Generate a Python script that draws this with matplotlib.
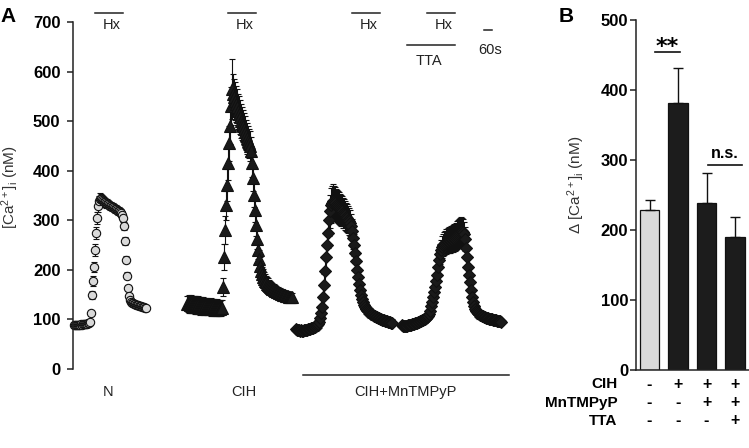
import matplotlib.pyplot as plt
import numpy as np

plt.rcParams['font.family'] = ['Liberation Sans', 'DejaVu Sans']
plt.rcParams['mathtext.fontset'] = 'custom'
plt.rcParams['mathtext.rm'] = 'Liberation Sans'
plt.rcParams['mathtext.it'] = 'Liberation Sans:italic'
plt.rcParams['mathtext.bf'] = 'Liberation Sans:bold'

# ---------------- panel A: [Ca2+]i traces (nM) ----------------
SAMPLE_S = 7.5  # one point every 7.5 s

# normoxic cells (N)
n_start = 7.5
n_vals = [88, 88, 89, 88, 89, 89, 89, 90, 89, 90, 90, 90, 91, 91, 92, 93,
          95, 113, 149, 177, 205, 240, 275, 305, 328,
          338, 343, 342, 341, 339, 337, 336, 334, 333, 332, 330, 329, 328,
          327, 326, 325, 323, 322, 321, 319, 318, 316, 314, 311, 305,
          288, 258, 220, 188, 163, 148,
          140, 136, 134, 133, 132, 131, 130, 129, 129, 128, 127, 127, 126,
          125, 125, 124, 123]
n_err = [2, 2, 2, 2, 2, 2, 2, 2, 2, 2, 2, 2, 3, 3, 3, 3,
         4, 5, 8, 10, 10, 12, 12, 12, 12,
         12, 12, 11, 10, 10, 9, 9, 9, 9, 8, 8, 8, 8, 8, 8, 8, 8, 8, 8, 8,
         8, 8, 8, 8, 8,
         8, 8, 7, 7, 6, 6,
         5, 5, 4, 4, 4, 4, 4, 4, 4, 4, 3, 3, 3, 3, 3, 3, 3]

# CIH
cih_start = 855
cih_vals = [132, 131, 131, 130, 131, 130, 129, 130, 129, 129, 128, 129,
            128, 127, 128, 127, 127, 126, 127, 126, 126, 125, 126, 125,
            125, 124, 125, 124, 124, 123, 124, 123, 123, 122, 123, 124,
            165, 226, 280, 330, 371, 415, 455, 490, 530, 565,
            555, 548, 540, 535, 528, 520, 515, 508, 500, 495, 490, 484,
            478, 472, 465, 460, 455, 450, 440,
            415, 385, 352, 320, 290, 262, 240, 222, 208, 198,
            191, 186, 182, 178, 175, 172, 170, 168, 166, 164, 162, 161,
            160, 158, 157, 156, 155, 154, 153, 152, 151, 150, 150, 149,
            148, 148, 147, 146, 146, 145, 145]
cih_err = [16, 17, 18, 18, 19, 18, 17, 18, 19, 18, 17, 18, 18, 19, 18, 17,
           18, 18, 17, 18, 18, 17, 16, 17, 18, 17, 16, 17, 16, 16, 17, 16,
           16, 15, 16, 16,
           18, 26, 28, 30, 32, 34, 35, 36, 38, 60,
           40, 38, 38, 36, 36, 35, 35, 34, 34, 33, 33, 32, 32, 31, 31, 30,
           30, 30, 28,
           27, 26, 25, 24, 22, 20, 19, 18, 17, 16,
           15, 15, 14, 14, 13, 13, 13, 12, 12, 12, 12, 11, 11, 11, 11, 10,
           10, 10, 10, 10, 10, 9, 9, 9, 9, 9, 9, 9, 9, 9, 9]

# CIH + MnTMPyP
mn_start = 1672.5
mn_vals = [80, 79, 78, 78, 77, 78, 77, 77, 78, 78, 79, 79, 80, 80, 81, 82,
           82, 83, 84, 85, 86, 88, 90,
           95, 102, 112, 125, 145, 170, 198, 225, 250, 275, 300, 318, 330,
           335, 338,
           336, 334, 331, 329, 327, 325, 322, 320, 318, 315, 313, 310, 307,
           304, 301, 298, 294,
           288, 278, 265, 250, 234, 218, 200, 186, 172, 159, 149, 141, 135,
           130,
           126, 122, 119, 117, 115, 113, 111, 110, 108, 107, 106, 105, 104,
           103, 102, 101, 100, 99, 99, 98, 97, 96, 96, 95, 94, 94, 93, 93]
mn_err = [6, 6, 6, 6, 6, 6, 6, 6, 6, 7, 7, 7, 7, 7, 7, 8, 8, 8, 8, 9, 9, 10,
          10,
          12, 14, 16, 18, 20, 22, 25, 27, 28, 30, 32, 33, 35, 35, 35,
          34, 34, 33, 33, 32, 32, 31, 31, 30, 30, 29, 29, 28, 28, 27, 27, 26,
          25, 24, 23, 22, 21, 20, 19, 18, 17, 16, 15, 14, 13, 12,
          12, 11, 11, 10, 10, 10, 9, 9, 9, 9, 8, 8, 8, 8, 8, 8, 7, 7, 7, 7,
          7, 7, 7, 7, 7, 7, 7, 7]

# CIH + MnTMPyP + TTA
tta_start = 2467.5
tta_vals = [88, 87, 87, 86, 87, 87, 88, 88, 89, 89, 90, 90, 91, 92, 92, 93,
            94, 95, 96, 97, 98, 99, 100, 101, 103, 105, 107, 110,
            118, 127, 136, 145, 155, 165, 178, 190, 206, 220, 232, 240, 246,
            250, 253,
            255, 257, 258, 259, 260, 261, 262, 263, 264, 265, 266, 268, 270,
            272, 274, 276, 278, 278, 276, 272,
            262, 245, 225, 206, 190, 176, 160, 145, 135, 128, 122,
            118, 115, 112, 110, 109, 108, 107, 106, 105, 104, 103, 103, 102,
            101, 101, 100, 100, 99, 99, 98, 98, 97, 97, 96, 96, 95]
tta_err = [5, 5, 5, 5, 5, 5, 5, 5, 5, 5, 6, 6, 6, 6, 6, 6, 6, 6, 7, 7, 7, 7,
           7, 8, 8, 8, 9, 9,
           10, 11, 12, 13, 14, 15, 16, 17, 18, 19, 20, 21, 22, 23, 24,
           24, 25, 25, 25, 26, 26, 26, 26, 27, 27, 27, 27, 28, 28, 28, 28,
           28, 27, 26, 25,
           24, 22, 20, 18, 17, 16, 15, 14, 13, 12, 11,
           10, 10, 9, 9, 9, 8, 8, 8, 8, 7, 7, 7, 7, 7, 7, 6, 6, 6, 6, 6, 6,
           6, 6, 6, 6, 6]

# hypoxia (Hx) and TTA application windows, seconds
hx_windows = [(165, 375), (1162.5, 1372.5), (2092.5, 2302.5), (2655, 2865)]
tta_window = (2505, 2865)

# ---------------- panel B: peak increase ----------------
b_vals = [228, 381, 239, 190]
b_err = [15, 51, 43, 29]
b_colors = ['#dadada', '#1c1c1c', '#1c1c1c', '#1c1c1c']
row_cih = ['-', '+', '+', '+']
row_mn = ['-', '-', '+', '+']
row_tta = ['-', '-', '-', '+']

fig = plt.figure(figsize=(7.49, 4.48), dpi=100)

ax = fig.add_axes([0.09746, 0.17634, 0.5968, 0.77455])
traces = [
    (n_start, n_vals, n_err, 'o', 6.0, '#d9d9d9'),
    (cih_start, cih_vals, cih_err, '^', 8.2, '#1a1a1a'),
    (mn_start, mn_vals, mn_err, 'D', 6.0, '#1a1a1a'),
    (tta_start, tta_vals, tta_err, 'D', 6.0, '#1a1a1a'),
]
for start, vals, err, mk, ms, fc in traces:
    t = start + SAMPLE_S * np.arange(len(vals))
    ax.errorbar(t, vals, yerr=err, fmt=mk, ms=ms, mfc=fc, mec='#111111',
                mew=0.8, ecolor='#111111', elinewidth=0.8, capsize=2.5,
                capthick=0.8, clip_on=False)

ax.set_xlim(0, 3352.5)
ax.set_ylim(0, 700)
ax.set_yticks(range(0, 701, 100))
for s in ['top', 'right', 'bottom']:
    ax.spines[s].set_visible(False)
ax.spines['left'].set_linewidth(1.1)
ax.spines['left'].set_color('#222222')
ax.set_xticks([])
ax.tick_params(axis='y', direction='out', length=4, width=1.1,
               color='#222222', labelsize=12, pad=5)
for lb in ax.get_yticklabels():
    lb.set_fontweight('bold')

for (a, b) in hx_windows:
    ax.plot([a, b], [718, 718], color='#222222', lw=1.1, clip_on=False)
    ax.text(b - 0.4 * (b - a), 693, 'Hx', ha='center', va='center',
            fontsize=10.5, color='#222222')
ax.plot(tta_window, [653, 653], color='#222222', lw=1.1, clip_on=False)
ax.text(2670, 622, 'TTA', ha='center', va='center', fontsize=10.5,
        color='#222222')
ax.plot([3082.5, 3142.5], [684, 684], color='#222222', lw=1.1, clip_on=False)
ax.text(3127, 643, '60s', ha='center', va='center', fontsize=10.5,
        color='#222222')

ax.text(262, -46, 'N', ha='center', va='center', fontsize=10.5,
        color='#222222', clip_on=False)
ax.text(1282, -46, 'CIH', ha='center', va='center', fontsize=10.5,
        color='#222222', clip_on=False)
ax.plot([1725, 3270], [-12, -12], color='#222222', lw=1.1, clip_on=False)
ax.text(2490, -46, 'CIH+MnTMPyP', ha='center', va='center', fontsize=10.5,
        color='#222222', clip_on=False)

fig.text(10.5 / 749, 1 - 187 / 448, r'[Ca$^{2+}$]$_\mathrm{i}$ (nM)',
         rotation=90, ha='center', va='center', fontsize=11, color='#333333')
fig.text(0.0, 1 - 22 / 448, 'A', fontsize=15, fontweight='bold',
         ha='left', va='baseline')

# ---------------- panel B ----------------
bx = fig.add_axes([636 / 749, 78 / 448, 113 / 749, 350 / 448])
xpos = np.arange(len(b_vals))
bx.bar(xpos, b_vals, width=0.684, color=b_colors, edgecolor='#111111',
       linewidth=0.9, yerr=[np.zeros(len(b_err)), b_err],
       error_kw=dict(ecolor='#111111', elinewidth=1.0, capsize=3.5,
                     capthick=1.0))
bx.set_xlim(-0.4737, 3.491)
bx.set_ylim(0, 500)
bx.set_yticks(range(0, 501, 100))
bx.set_xticks([])
for s in ['top', 'right']:
    bx.spines[s].set_visible(False)
for s in ['left', 'bottom']:
    bx.spines[s].set_linewidth(1.1)
    bx.spines[s].set_color('#222222')
bx.tick_params(axis='y', direction='out', length=4, width=1.1,
               color='#222222', labelsize=12, pad=1.5)
for lb in bx.get_yticklabels():
    lb.set_fontweight('bold')

bx.text(0.61, 462, '**', ha='center', va='center', fontsize=16,
        fontweight='bold', family='DejaVu Sans')
bx.plot([0.19, 1.07], [454, 454], color='#111111', lw=1.2)
bx.text(2.65, 309, 'n.s.', ha='center', va='center', fontsize=11.5,
        fontweight='bold')
bx.plot([2.05, 3.25], [293, 293], color='#111111', lw=1.2, clip_on=False)

tr = bx.get_xaxis_transform()
rows = [('CIH', row_cih, -0.04), ('MnTMPyP', row_mn, -0.093),
        ('TTA', row_tta, -0.145)]
for name, signs, yy in rows:
    bx.text(-1.13, yy, name, transform=tr, ha='right', va='center',
            fontsize=11, fontweight='bold', clip_on=False)
    for xi, sg in zip(xpos, signs):
        bx.text(xi, yy, sg, transform=tr, ha='center', va='center',
                fontsize=11.5, fontweight='bold', clip_on=False)

fig.text(576 / 749, 1 - 185 / 448, r'$\Delta$ [Ca$^{2+}$]$_\mathrm{i}$ (nM)',
         rotation=90, ha='center', va='center', fontsize=11, color='#333333')
fig.text(559 / 749, 1 - 22 / 448, 'B', fontsize=15, fontweight='bold',
         ha='left', va='baseline')

fig.savefig('out.png', dpi=100)
